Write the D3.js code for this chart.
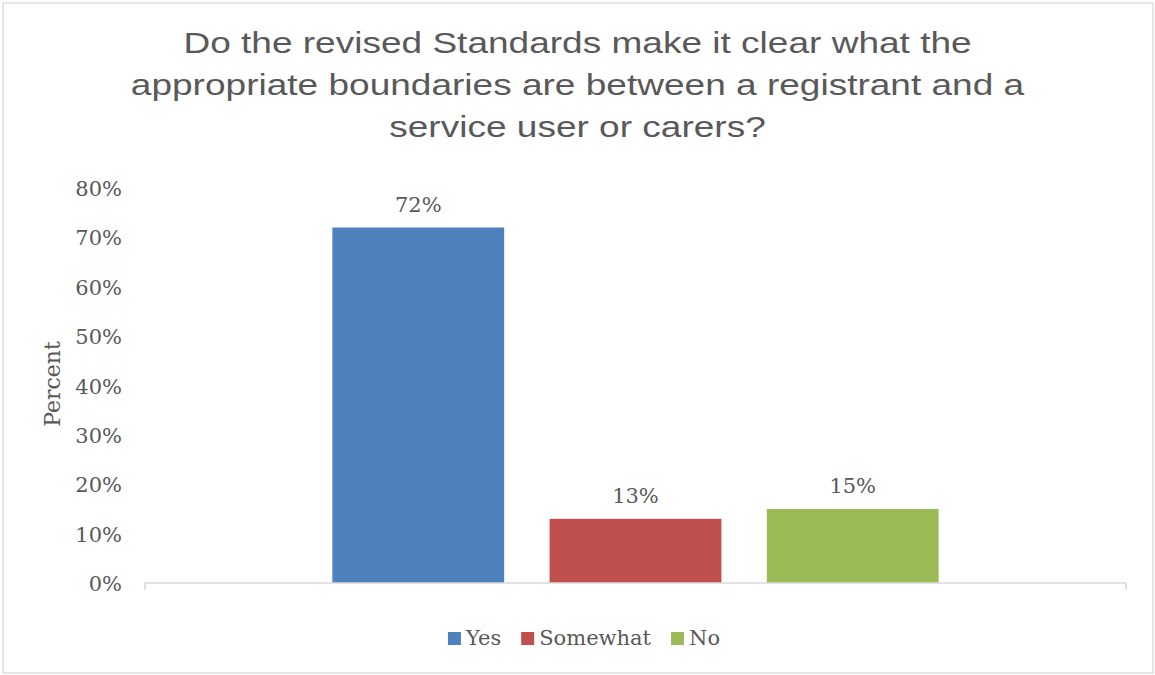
<!DOCTYPE html>
<html>
<head>
<meta charset="utf-8">
<script src="https://cdn.jsdelivr.net/npm/d3@7"></script>
<style>
  html, body { margin: 0; padding: 0; background: #ffffff; }
  svg { display: block; }
</style>
</head>
<body>
<svg id="chart" width="1155" height="675"></svg>
<script>
// ---- data ----
const titleLines = [
  "Do the revised Standards make it clear what the",
  "appropriate boundaries are between a registrant and a",
  "service user or carers?"
];
const categories = [""];
const seriesNames = ["Yes", "Somewhat", "No"];
const seriesValues = [0.72, 0.13, 0.15];
const seriesColors = ["#4F81BD", "#C0504D", "#9BBB59"];
const yTicks = [0, 0.1, 0.2, 0.3, 0.4, 0.5, 0.6, 0.7, 0.8];
const yTitle = "Percent";

// ---- layout ----
const W = 1155, H = 675;
const plot = { left: 145, right: 1126, top: 188, bottom: 583 };
const serif = "'DejaVu Serif', 'Liberation Serif', serif";
const sans = "'Liberation Sans', Arial, sans-serif";
const textColor = "#595959";
const axisColor = "#D9D9D9";

const svg = d3.select("#chart");

svg.append("rect")
  .attr("x", 3).attr("y", 3).attr("width", W - 5).attr("height", H - 5)
  .attr("fill", "#ffffff").attr("stroke", axisColor).attr("stroke-width", 1.3);

// title (stretched horizontally like the reference)
const title = svg.append("g");
titleLines.forEach((t, i) => {
  title.append("text")
    .attr("transform", `translate(${W / 2},${53 + i * 42}) scale(1.235,1)`)
    .attr("text-anchor", "middle")
    .attr("font-family", sans)
    .attr("font-size", 30)
    .attr("fill", textColor)
    .text(t);
});

// scales
const x0 = d3.scaleBand().domain(categories)
  .range([plot.left, plot.right]).paddingInner(0).paddingOuter(0.309);
const x1 = d3.scaleBand().domain(seriesNames)
  .range([0, x0.bandwidth()]).paddingInner(0.209).paddingOuter(0);
const y = d3.scaleLinear().domain([0, 0.8]).range([plot.bottom, plot.top]);

// y axis (labels only)
const yAxis = svg.append("g")
  .attr("transform", `translate(${plot.left},0)`)
  .call(d3.axisLeft(y).tickValues(yTicks).tickFormat(d3.format(".0%")).tickSize(0).tickPadding(23));
yAxis.select(".domain").remove();
yAxis.selectAll("text")
  .attr("font-family", serif).attr("font-size", 21).attr("fill", textColor)
  .attr("dy", "0.36em");

// bars
const groups = svg.append("g").selectAll("g").data(categories).join("g")
  .attr("transform", d => `translate(${x0(d)},0)`);

groups.selectAll("rect")
  .data(() => seriesNames.map((s, i) => ({ s, v: seriesValues[i], c: seriesColors[i] })))
  .join("rect")
  .attr("x", d => x1(d.s))
  .attr("y", d => y(d.v))
  .attr("width", x1.bandwidth())
  .attr("height", d => y(0) - y(d.v))
  .attr("fill", d => d.c);

groups.selectAll("text.lbl")
  .data(() => seriesNames.map((s, i) => ({ s, v: seriesValues[i] })))
  .join("text").attr("class", "lbl")
  .attr("x", d => x1(d.s) + x1.bandwidth() / 2)
  .attr("y", d => y(d.v) - 16)
  .attr("text-anchor", "middle")
  .attr("font-family", serif).attr("font-size", 21).attr("fill", textColor)
  .text(d => d3.format(".0%")(d.v));

// x axis
const xAxis = svg.append("g")
  .attr("transform", `translate(0,${plot.bottom})`)
  .call(d3.axisBottom(x0).tickSize(0).tickFormat(""));
xAxis.select(".domain").attr("stroke", axisColor).attr("stroke-width", 1.6)
  .attr("d", `M${plot.left},7V0H${plot.right}V7`);
xAxis.selectAll(".tick").remove();

// y title
svg.append("text")
  .attr("transform", `translate(60,384) rotate(-90)`)
  .attr("text-anchor", "middle")
  .attr("font-family", serif).attr("font-size", 22).attr("fill", textColor)
  .text(yTitle);

// legend
const legend = svg.append("g");
const items = legend.selectAll("g").data(seriesNames).join("g");
items.append("rect").attr("width", 13).attr("height", 13)
  .attr("y", -13).attr("fill", (d, i) => seriesColors[i]);
items.append("text").attr("x", 18).attr("y", 0)
  .attr("font-family", serif).attr("font-size", 21).attr("fill", textColor)
  .text(d => d);
let off = 0;
items.each(function () {
  const g = d3.select(this);
  const w = 18 + g.select("text").node().getComputedTextLength();
  g.attr("transform", `translate(${off},0)`);
  off += w + 20;
});
const totalW = off - 20;
legend.attr("transform", `translate(${584 - totalW / 2},645)`);
</script>
</body>
</html>
